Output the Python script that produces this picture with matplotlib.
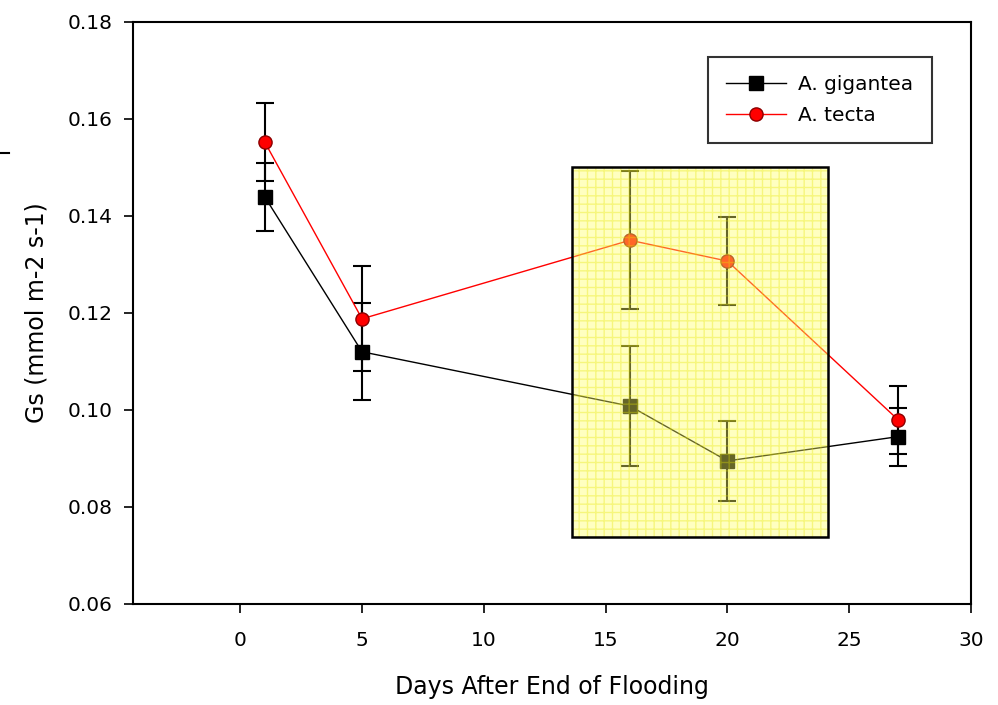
import numpy as np
import matplotlib
matplotlib.use("Agg")
from matplotlib import pyplot as plt
from matplotlib.patches import Rectangle
from matplotlib.lines import Line2D

plt.rcParams['font.family'] = ['DejaVu Sans']

days = [1, 5, 16, 20, 27]
gigantea = [0.1440, 0.1120, 0.1008, 0.0895, 0.0945]
gigantea_err = [0.0070, 0.0100, 0.0123, 0.0082, 0.0060]
tecta = [0.1553, 0.1188, 0.1350, 0.1307, 0.0980]
tecta_err = [0.0080, 0.0108, 0.0142, 0.0090, 0.0070]

xticks = [0, 5, 10, 15, 20, 25, 30]
yticks = [0.06, 0.08, 0.10, 0.12, 0.14, 0.16, 0.18]

fig = plt.figure(figsize=(9.98, 7.05), dpi=100)
ax = fig.add_axes([0.1333, 0.1433, 0.8397, 0.8255])

ax.errorbar(days, gigantea, yerr=gigantea_err, color='black', lw=1.0,
            marker='s', markersize=9.5, mfc='black', mec='black',
            ecolor='black', elinewidth=1.5, capsize=6.5, capthick=1.5,
            label='A. gigantea', zorder=3)
ax.errorbar(days, tecta, yerr=tecta_err, color='red', lw=1.0,
            marker='o', markersize=9.5, mfc='red', mec='#8b0000',
            ecolor='black', elinewidth=1.5, capsize=6.5, capthick=1.5,
            label='A. tecta', zorder=3)

# highlighted window (semi-transparent over the data)
ax.add_patch(Rectangle((13.62, 0.0739), 24.11 - 13.62, 0.15 - 0.0739,
                       facecolor='#ffff66', alpha=0.4, edgecolor='none', zorder=4))
ax.add_patch(Rectangle((13.62, 0.0739), 24.11 - 13.62, 0.15 - 0.0739,
                       facecolor='none', edgecolor='#e6e600', hatch='++', lw=0,
                       alpha=0.35, zorder=4))
ax.add_patch(Rectangle((13.62, 0.0739), 24.11 - 13.62, 0.15 - 0.0739,
                       facecolor='none', edgecolor='black', lw=1.8, zorder=5))

ax.set_xlim(-4.4, 30)
ax.set_ylim(0.06, 0.18)
ax.set_xticks(xticks)
ax.set_yticks(yticks)
ax.set_yticklabels(['%.2f' % v for v in yticks])
ax.tick_params(direction='out', length=6.5, width=1.2, labelsize=14.5)
ax.tick_params(axis='x', pad=13)
ax.tick_params(axis='y', pad=8)
for s in ax.spines.values():
    s.set_linewidth(1.5)

ax.set_xlabel('Days After End of Flooding', fontsize=17, labelpad=18)
ax.set_ylabel('Gs (mmol m-2 s-1)', fontsize=17, labelpad=14)

handles = [Line2D([], [], color='black', lw=1.0, marker='s', markersize=9.5),
           Line2D([], [], color='red', lw=1.0, marker='o', markersize=9.5,
                  mfc='red', mec='#8b0000')]
leg = ax.legend(handles, ['A. gigantea', 'A. tecta'], loc='upper right',
                bbox_to_anchor=(0.953, 0.94), borderaxespad=0, fontsize=14.5,
                frameon=True, fancybox=False, edgecolor='black', borderpad=0.9,
                labelspacing=0.6, handlelength=3.0, handletextpad=0.6)
leg.get_frame().set_linewidth(1.5)

# stray dash at the left edge of the original figure
fig.add_artist(Line2D([0.0, 0.009], [1 - 153 / 705, 1 - 153 / 705],
                      transform=fig.transFigure, color='black', lw=1.5))

fig.savefig('out.png', dpi=100)
